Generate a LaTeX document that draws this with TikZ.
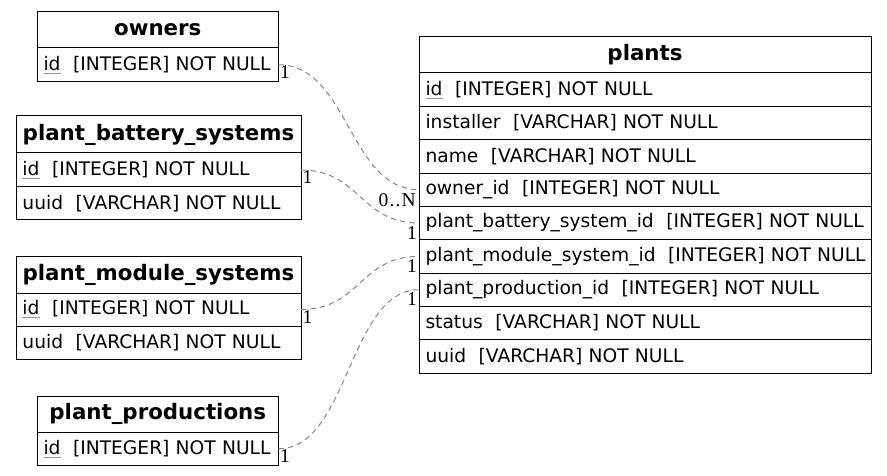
\documentclass[tikz,border=0pt]{standalone}
\usepackage{fontspec}
\setmainfont{DejaVu Sans}
\newfontfamily\lblfont{Liberation Serif}
\definecolor{ulgray}{RGB}{150,150,150}
\definecolor{relgray}{RGB}{136,136,136}
\newcommand\pkey[1]{\setbox0\hbox{#1}\rlap{\textcolor{ulgray}{\rule[-3.5pt]{\wd0}{0.9pt}}}#1}
\newcommand\fld[2]{\mbox{#1\hspace{12.5pt}#2}}
\tikzset{
  tbl/.style={draw=black, line width=1pt, anchor=north west, inner sep=0pt, outer sep=0pt},
  hdr/.style={tbl, font=\fontsize{21.33}{25}\selectfont\bfseries},
  fieldrow/.style={tbl, font=\fontsize{18.67}{22}\selectfont, inner xsep=6.5pt, align=left},
  rel/.style={draw=relgray, line width=1pt, dash pattern=on 5.5pt off 4pt},
  card/.style={font=\lblfont\fontsize{19.5}{21}\selectfont, inner sep=0pt, text=black}
}
\begin{document}
\begin{tikzpicture}[x=1pt,y=-1pt]
\useasboundingbox (0,0) rectangle (887,476);
% owners
\node[hdr, minimum width=241.5pt, minimum height=36pt] (owners) at (37,12) {owners};
\node[fieldrow, text width=228.5pt, minimum height=33.5pt] (owners-id) at (owners.south west) {\fld{\pkey{id}}{[INTEGER] NOT NULL}};
% plant_battery_systems
\node[hdr, minimum width=285pt, minimum height=37pt] (pbs) at (16,116) {plant\_battery\_systems};
\node[fieldrow, text width=272pt, minimum height=34pt] (pbs-id) at (pbs.south west) {\fld{\pkey{id}}{[INTEGER] NOT NULL}};
\node[fieldrow, text width=272pt, minimum height=33pt] (pbs-uuid) at (pbs-id.south west) {\fld{uuid}{[VARCHAR] NOT NULL}};
% plant_module_systems
\node[hdr, minimum width=285pt, minimum height=37pt] (pms) at (16,256) {plant\_module\_systems};
\node[fieldrow, text width=272pt, minimum height=33pt] (pms-id) at (pms.south west) {\fld{\pkey{id}}{[INTEGER] NOT NULL}};
\node[fieldrow, text width=272pt, minimum height=33pt] (pms-uuid) at (pms-id.south west) {\fld{uuid}{[VARCHAR] NOT NULL}};
% plant_productions
\node[hdr, minimum width=241.5pt, minimum height=36pt] (pp) at (37,396) {plant\_productions};
\node[fieldrow, text width=228.5pt, minimum height=33.5pt] (pp-id) at (pp.south west) {\fld{\pkey{id}}{[INTEGER] NOT NULL}};
% plants
\node[hdr, minimum width=452pt, minimum height=36pt] (plants) at (419,37) {plants};
\node[fieldrow, text width=439pt, minimum height=33.34pt] (plants-id) at (plants.south west) {\fld{\pkey{id}}{[INTEGER] NOT NULL}};
\node[fieldrow, text width=439pt, minimum height=33.34pt] (plants-installer) at (plants-id.south west) {\fld{installer}{[VARCHAR] NOT NULL}};
\node[fieldrow, text width=439pt, minimum height=33.34pt] (plants-name) at (plants-installer.south west) {\fld{name}{[VARCHAR] NOT NULL}};
\node[fieldrow, text width=439pt, minimum height=33.34pt] (plants-owner) at (plants-name.south west) {\fld{owner\_id}{[INTEGER] NOT NULL}};
\node[fieldrow, text width=439pt, minimum height=33.34pt] (plants-battery) at (plants-owner.south west) {\fld{plant\_battery\_system\_id}{[INTEGER] NOT NULL}};
\node[fieldrow, text width=439pt, minimum height=33.34pt] (plants-module) at (plants-battery.south west) {\fld{plant\_module\_system\_id}{[INTEGER] NOT NULL}};
\node[fieldrow, text width=439pt, minimum height=33.34pt] (plants-production) at (plants-module.south west) {\fld{plant\_production\_id}{[INTEGER] NOT NULL}};
\node[fieldrow, text width=439pt, minimum height=33.34pt] (plants-status) at (plants-production.south west) {\fld{status}{[VARCHAR] NOT NULL}};
\node[fieldrow, text width=439pt, minimum height=33.34pt] (plants-uuid) at (plants-status.south west) {\fld{uuid}{[VARCHAR] NOT NULL}};
% relations
\draw[rel] (owners-id.east) .. controls +(70,0) and +(-70,0) .. (plants-owner.west);
\draw[rel] (pbs-id.east) .. controls +(59,0) and +(-59,0) .. (plants-battery.west);
\draw[rel] (pms-id.east) .. controls +(59,0) and +(-59,0) .. (plants-module.west);
\draw[rel] (pp-id.east) .. controls +(70,0) and +(-70,0) .. (plants-production.west);
% cardinalities
\node[card, anchor=north west, xshift=1.5pt, yshift=-0.5pt] (c-owners) at (owners-id.east) {1};
\node[card, anchor=north east, xshift=-3pt, yshift=-3.5pt] (c-owner) at (plants-owner.west) {0\kern1.2pt.\kern1.2pt.\kern1.2pt N};
\node[card, anchor=north west, xshift=1.5pt, yshift=-0.5pt] (c-pbs) at (pbs-id.east) {1};
\node[card, anchor=north east, xshift=-2pt, yshift=-3pt] (c-battery) at (plants-battery.west) {1};
\node[card, anchor=north west, xshift=1.5pt, yshift=-0.5pt] (c-pms) at (pms-id.east) {1};
\node[card, anchor=north east, xshift=-2pt, yshift=-3pt] (c-module) at (plants-module.west) {1};
\node[card, anchor=north west, xshift=1.5pt, yshift=-0.5pt] (c-pp) at (pp-id.east) {1};
\node[card, anchor=north east, xshift=-2pt, yshift=-3pt] (c-production) at (plants-production.west) {1};
\end{tikzpicture}
\end{document}
